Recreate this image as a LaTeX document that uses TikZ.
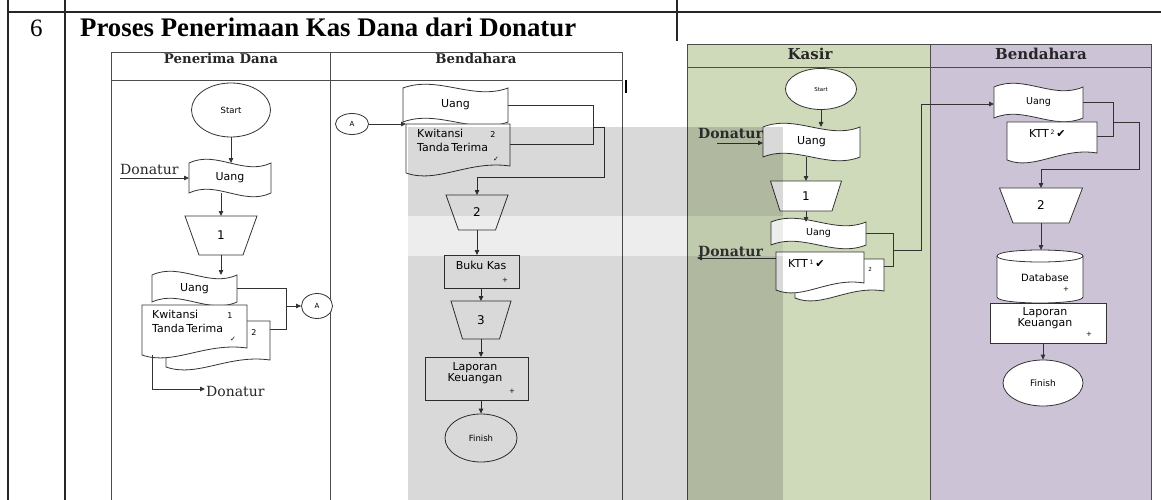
\documentclass[tikz,border=0pt]{standalone}
\usepackage{fontspec}
\setmainfont{Liberation Serif}
\newfontfamily\hdfont{DejaVu Serif}
\newfontfamily\sansf{DejaVu Sans}
\usetikzlibrary{arrows.meta,shapes.geometric}
\definecolor{linec}{HTML}{333333}
\definecolor{kasirgreen}{HTML}{CFDABB}
\definecolor{bendpurple}{HTML}{CDC3D7}

% tape (punched tape) shape: name, x1, y1, x2, y2, text
\newcommand\tapeshp[6]{%
  \filldraw[shp] (#2,#3) .. controls ({#2+(#4-#2)/3},{#3-13}) and ({#2+2*(#4-#2)/3},{#3+13}) .. (#4,#3)
     -- (#4,#5) .. controls ({#2+2*(#4-#2)/3},{#5+13}) and ({#2+(#4-#2)/3},{#5-13}) .. (#2,#5) -- cycle;
  \node[box, minimum width={(#4-#2)*1pt}, minimum height={(#5-#3)*1pt}] (#1) at ({(#2+#4)/2},{(#3+#5)/2}) {#6};
}
% document shape: name, x1, y1, x2, ybottom(left), text
\newcommand\docshp[6]{%
  \filldraw[shp] (#2,#3) -- (#4,#3) -- (#4,{#5-7}) .. controls ({#2+0.6*(#4-#2)},{#5-13}) and ({#2+0.3*(#4-#2)},{#5+11}) .. (#2,#5) -- cycle;
  \node[box, minimum width={(#4-#2)*1pt}, minimum height={(#5-#3)*1pt}] (#1) at ({(#2+#4)/2},{(#3+#5)/2}) {#6};
}
% manual operation trapezoid: name, xc, ytop, topw, botw, ybot, text
\newcommand\trapshp[7]{%
  \filldraw[shp] ({#2-#4/2},#3) -- ({#2+#4/2},#3) -- ({#2+#5/2},#6) -- ({#2-#5/2},#6) -- cycle;
  \node[box, font=\sansf\fontsize{12}{13}\selectfont, minimum width={#4*1pt}, minimum height={(#6-#3)*1pt}] (#1) at (#2,{(#3+#6)/2}) {#7};
}

\begin{document}
\begin{tikzpicture}[x=1pt,y=-1pt,
  shp/.style={draw=linec, fill=white, line width=0.8pt},
  box/.style={inner sep=0pt, outer sep=0pt, rectangle, font=\sansf\fontsize{11}{12}\selectfont},
  lbl/.style={inner sep=0pt, font=\sansf\fontsize{11}{12}\selectfont},
  small/.style={inner sep=0pt, font=\sansf\fontsize{7}{8}\selectfont},
  conn/.style={draw=linec, line width=0.8pt},
  arr/.style={conn, -{Triangle[length=5pt,width=4.5pt]}},
  hdr/.style={inner sep=0pt, font=\hdfont\bfseries\fontsize{13.3}{15}\selectfont, text=black!85},
  hdrR/.style={inner sep=0pt, font=\hdfont\bfseries\fontsize{15}{17}\selectfont, text=black!85},
  dnt/.style={inner sep=0pt, font=\hdfont\fontsize{14}{16}\selectfont, text=black!85},
  dntB/.style={inner sep=0pt, font=\hdfont\bfseries\fontsize{14}{16}\selectfont, text=black!80},
  lane/.style={draw=black!70, line width=0.9pt},
  tbl/.style={draw=black!85, line width=1.6pt},
  elp/.style={ellipse, shp, inner sep=0pt}
]
\useasboundingbox (0,0) rectangle (1161,500);
\fill[white] (0,0) rectangle (1161,500);

% ---------- table ----------
\draw[tbl] (8,0) -- (8,500);
\draw[tbl] (65,0) -- (65,500);
\draw[tbl] (8,12) -- (1161,12);
\draw[tbl] (677,0) -- (677,41);
\node[anchor=base west, inner sep=0pt, font=\fontsize{25}{28}\selectfont] (num) at (30,37) {6};
\node[anchor=base west, inner sep=0pt, font=\bfseries\fontsize{26.8}{30}\selectfont] (title) at (80,37) {Proses Penerimaan Kas Dana dari Donatur};

% ---------- right diagram backgrounds ----------
\fill[kasirgreen] (687,44) rectangle (930,500);
\fill[bendpurple] (930,44) rectangle (1151,500);

% ---------- lanes, left diagram ----------
\draw[lane] (111,52) rectangle (622,502);
\draw[lane] (111,80) -- (622,80);
\draw[lane] (330,52) -- (330,502);
\draw[line width=1.6pt] (626,80) -- (626,93);
\node[hdr] (h1) at (221,59) {Penerima Dana};
\node[hdr] (h2) at (476,59) {Bendahara};

% ---------- lanes, right diagram ----------
\draw[lane] (687,44) rectangle (1151,502);
\draw[lane] (687,67) -- (1151,67);
\draw[lane] (930,44) -- (930,502);
\node[hdrR] (h3) at (810,54) {Kasir};
\node[hdrR] (h4) at (1041,54) {Bendahara};

% ---------- Penerima Dana ----------
\node[elp, minimum width=79pt, minimum height=54pt, font=\sansf\fontsize{8.5}{9}\selectfont] (st1) at (231,110) {Start};
\tapeshp{u1}{189}{163}{271}{193}{Uang}
\draw[arr] (st1.south) -- (st1.south |- u1.north);
\node[dnt, anchor=base west] (dn1) at (120,174) {Donatur};
\coordinate (dn1a) at (120,178);
\draw[arr] (dn1a) -- (dn1a -| u1.west);
\trapshp{t1}{221}{216}{72}{44}{255}{1}
\draw[arr] (t1.north |- u1.south) -- (t1.north);
\tapeshp{u2}{152}{275}{237}{302}{Uang}
\draw[arr] (t1.south) -- (t1.south |- u2.north);
\docshp{k1b}{166}{321}{270}{367}{}
\docshp{k1}{142}{305}{247}{355}{}
\node[lbl, anchor=base west] (k1t1) at (152,318) {Kwitansi};
\node[small, anchor=base] (k1n) at (230,318) {\fontsize{8}{9}\selectfont 1};
\node[lbl, anchor=base west] (k1t2) at (152,332) {Tanda\,Terima};
\node[small, anchor=base] (k1c) at (233,341) {✓};
\node[small, anchor=base] (k1bn) at (254,335) {\fontsize{8}{9}\selectfont 2};
\node[elp, minimum width=31pt, minimum height=25pt, font=\sansf\fontsize{7}{8}\selectfont] (a1) at (317,306) {A};
\coordinate (j1) at (286,306);
\coordinate (j1b) at (286,329);
\draw[conn] (u2.east) -| (j1);
\draw[conn] (j1) -- (j1b) -- (j1b -| k1b.east);
\draw[arr] (j1) -- (a1.west);
\node[dnt, anchor=base west] (dn2) at (206,396) {Donatur};
\coordinate (dn2a) at (205,389);
\draw[arr] ([xshift=10pt]k1.south west) |- (dn2a);

% ---------- Bendahara (left) ----------
\node[elp, minimum width=33pt, minimum height=21pt, font=\sansf\fontsize{7}{8}\selectfont] (a2) at (352,124) {A};
\tapeshp{u3}{403}{88}{508}{122}{Uang}
\docshp{k2}{406}{124}{510}{173}{}
\draw[arr] (a2.east) -- (a2.east -| k2.west);
\node[lbl, anchor=base west] (k2t1) at (417,138) {Kwitansi};
\node[small, anchor=base] (k2n) at (493,138) {\fontsize{8}{9}\selectfont 2};
\node[lbl, anchor=base west] (k2t2) at (417,151) {Tanda\,Terima};
\node[small, anchor=base] (k2c) at (496,161) {✓};
\coordinate (j2) at (593,127);
\coordinate (j2b) at (593,144);
\coordinate (j3) at (604,177);
\draw[conn] (u3.east) -| (j2);
\draw[conn] (j2) -- (j2b) -- (j2b -| k2.east);
\trapshp{t2}{477}{195}{62}{37}{230}{2}
\draw[arr] (j2) -| (j3) -| (t2.north);
\node[shp, box, minimum width=75pt, minimum height=33pt] (bk) at (481.5,271.5) {};
\node[lbl] (bkt) at (481,265) {Buku Kas};
\node[small] (bkp) at (505,280) {+};
\draw[arr] (t2.south) -- (t2.south |- bk.north);
\trapshp{t3}{481}{301}{60}{37}{339}{3}
\draw[arr] (t3.north |- bk.south) -- (t3.north);
\node[shp, box, minimum width=103pt, minimum height=43pt] (lp1) at (476.5,378.5) {};
\node[lbl, align=center] (lp1t) at (475,373) {Laporan\\[-1pt]Keuangan};
\node[small] (lp1p) at (512,391) {+};
\draw[arr] (t3.south) -- (t3.south |- lp1.north);
\node[elp, minimum width=72pt, minimum height=48pt, font=\sansf\fontsize{8.5}{9}\selectfont] (fi1) at (481,438) {Finish};
\draw[arr] (fi1.north |- lp1.south) -- (fi1.north);

% ---------- Kasir ----------
\node[elp, minimum width=71pt, minimum height=41pt, font=\sansf\fontsize{5.5}{6}\selectfont] (st2) at (821,89) {Start};
\tapeshp{u4}{763}{127}{860}{157}{Uang}
\draw[arr] (st2.south) -- (st2.south |- u4.north);
\node[dntB, anchor=base west] (dn3) at (698,139) {Donatur};
\coordinate (dn3a) at (717,143);
\draw[arr] (dn3a) -- (dn3a -| u4.west);
\trapshp{t4}{806}{181}{71}{52}{211}{1}
\draw[arr] (t4.north |- u4.south) -- (t4.north);
\tapeshp{u5}{771}{222}{866}{245}{\fontsize{9.5}{10}\selectfont Uang}
\draw[arr] (t4.south) -- (t4.south |- u5.north);
\docshp{k3b}{795}{259}{884}{298}{}
\docshp{k3}{776}{252}{864}{290}{}
\node[lbl, anchor=base west] (k3t) at (788,267) {KTT\,\raisebox{3pt}{\fontsize{6}{6}\selectfont 1}\,✔};
\node[small, anchor=base] (k3n) at (870,271) {\fontsize{5.5}{6}\selectfont 2};
\coordinate (j4) at (893,250);
\coordinate (j4b) at (893,266);
\coordinate (j5) at (921,104);
\draw[conn] (u5.east) -| (j4);
\draw[conn] (j4) -- (j4b) -- (j4b -| k3b.east);
\node[dntB, anchor=base west] (dn4) at (698,256) {Donatur};
\coordinate (dn4a) at (697,258);
\draw[arr] (dn4a -| k3.west) -- (dn4a);

% ---------- Bendahara (right) ----------
\tapeshp{u6}{994}{87}{1083}{118}{\fontsize{9.5}{10}\selectfont Uang}
\draw[arr] (j4) -| (j5) -- (j5 -| u6.west);
\docshp{k4}{1007}{122}{1097}{160}{}
\node[lbl, anchor=base west] (k4t) at (1029,138) {KTT\,\raisebox{3pt}{\fontsize{6}{6}\selectfont 2}\,✔};
\coordinate (j6) at (1113,122);
\coordinate (j6b) at (1113,136);
\coordinate (j7) at (1139,169);
\draw[conn] (u6.east) -| (j6);
\draw[conn] (j6) -- (j6b) -- (j6b -| k4.east);
\trapshp{t6}{1041}{188}{83}{56}{223}{2}
\draw[arr] (j6) -| (j7) -| (t6.north);
\filldraw[shp] (997,256) -- (997,297) .. controls (997,305) and (1083,305) .. (1083,297) -- (1083,256)
   .. controls (1083,248) and (997,248) .. (997,256) -- cycle;
\draw[conn] (997,256) .. controls (997,264) and (1083,264) .. (1083,256);
\node[box, minimum width=86pt, minimum height=53pt] (db) at (1040,276.5) {};
\node[lbl] (dbt) at (1045,278) {\fontsize{10}{11}\selectfont Database};
\node[small] (dbp) at (1066,289) {+};
\draw[arr] (t6.south) -- (t6.south |- db.north);
\node[shp, box, minimum width=116pt, minimum height=40pt] (lp2) at (1048,323) {};
\node[lbl, align=center] (lp2t) at (1045,318) {Laporan\\[-1pt]Keuangan};
\node[small] (lp2p) at (1089,334) {+};
\node[elp, minimum width=80pt, minimum height=46pt, font=\sansf\fontsize{9}{10}\selectfont] (fi2) at (1043,383) {Finish};
\draw[arr] (fi2.north |- lp2.south) -- (fi2.north);

% ---------- watermark shading ----------
\fill[black, opacity=0.15] (408,127) rectangle (783,216);
\fill[black, opacity=0.07] (408,216) rectangle (783,256);
\fill[black, opacity=0.15] (408,256) rectangle (783,500);
\end{tikzpicture}
\end{document}
